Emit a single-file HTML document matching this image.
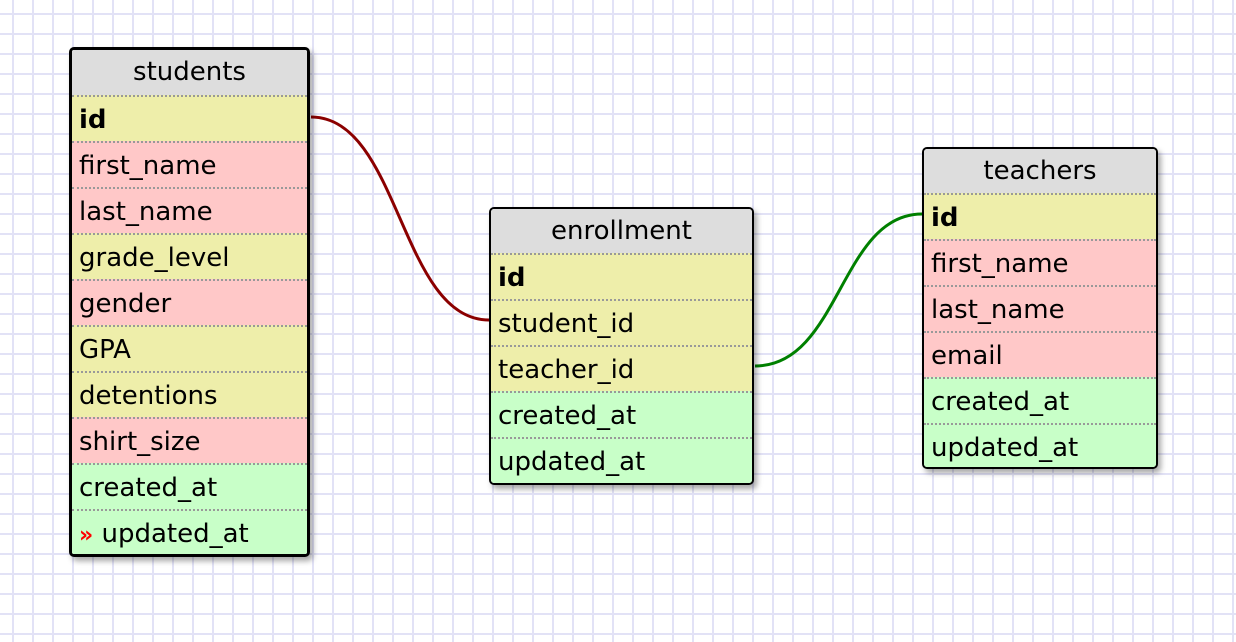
<!DOCTYPE html>
<html><head><style>
body{margin:0;width:1236px;height:642px;overflow:hidden;background:#fff;
background-image:linear-gradient(to right,#e2e2f6 2px,transparent 2px),linear-gradient(to bottom,#e2e2f6 2px,transparent 2px);
background-size:20px 20px;background-position:12px 13px;font-family:"DejaVu Sans","Liberation Sans",sans-serif;position:relative}
.t{position:absolute;background:#fff;border:1px solid #000;border-radius:5px;overflow:hidden;box-shadow:3px 4px 6px rgba(0,0,0,.35);box-sizing:border-box}
.t div{height:46px;line-height:46px;font-size:26px;color:#000;padding-left:7px;border-top:2px dotted #999;box-sizing:border-box;white-space:nowrap}
.t .h{background:#ddd;text-align:center;padding:0;border-top:none}
.y{background:#eeeeaa}.r{background:#ffc8c8}.g{background:#c8ffc8}
.b{font-weight:bold}
svg{position:absolute;left:0;top:0}
</style></head><body>
<svg width="1236" height="642">
<path d="M311,117 C400,117 400,320 489,320" fill="none" stroke="#8b0000" stroke-width="3"/>
<path d="M755,366 C840,366 840,214 922,214" fill="none" stroke="#008000" stroke-width="3"/>
</svg>
<div class="t" style="left:69px;top:47px;width:241px;height:510px;border:3px solid #000;">
<div class="h" style="height:45px;line-height:45px">students</div>
<div class="y b">id</div><div class="r">first_name</div><div class="r">last_name</div>
<div class="y">grade_level</div><div class="r">gender</div><div class="y">GPA</div>
<div class="y">detentions</div><div class="r">shirt_size</div><div class="g">created_at</div>
<div class="g"><span style="color:#f00;font-weight:bold;font-size:22px">»</span> updated_at</div>
</div>
<div class="t" style="left:489px;top:207px;width:265px;height:278px;border-width:2px">
<div class="h" style="height:44px;line-height:44px">enrollment</div>
<div class="y b">id</div><div class="y">student_id</div><div class="y">teacher_id</div>
<div class="g">created_at</div><div class="g">updated_at</div>
</div>
<div class="t" style="left:922px;top:147px;width:236px;height:322px;border-width:2px">
<div class="h" style="height:44px;line-height:44px">teachers</div>
<div class="y b">id</div><div class="r">first_name</div><div class="r">last_name</div>
<div class="r">email</div><div class="g">created_at</div><div class="g">updated_at</div>
</div>
</body></html>
